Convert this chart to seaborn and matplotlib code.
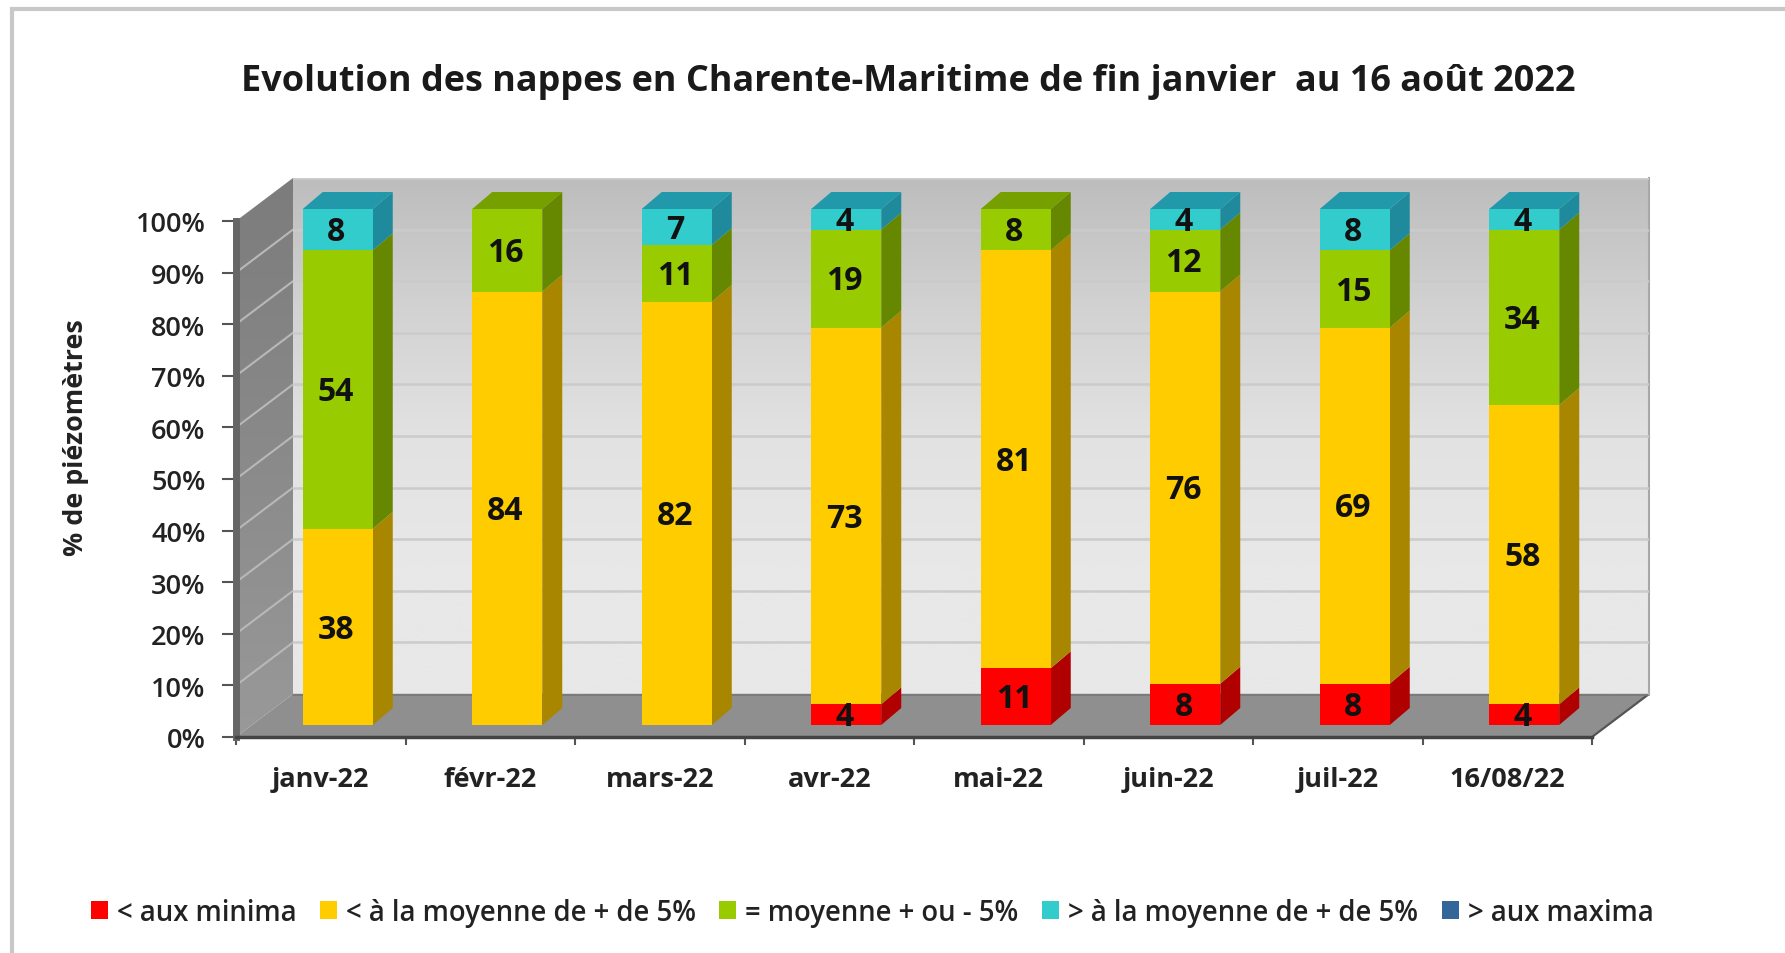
import numpy as np
import pandas as pd
import matplotlib
matplotlib.use("Agg")
import matplotlib.pyplot as plt
from matplotlib.patches import Polygon, Patch
from matplotlib.colors import LinearSegmentedColormap
import seaborn as sns

categories = ["janv-22", "févr-22", "mars-22", "avr-22", "mai-22", "juin-22", "juil-22", "16/08/22"]
minima = [0, 0, 0, 4, 11, 8, 8, 4]
sous_moyenne = [38, 84, 82, 73, 81, 76, 69, 58]
moyenne = [54, 16, 11, 19, 8, 12, 15, 34]
sur_moyenne = [8, 0, 7, 4, 0, 4, 8, 4]
maxima = [0, 0, 0, 0, 0, 0, 0, 0]

series_names = ["< aux minima", "< à la moyenne de + de 5%", "= moyenne + ou - 5%",
                "> à la moyenne de + de 5%", "> aux maxima"]
series_values = [minima, sous_moyenne, moyenne, sur_moyenne, maxima]
front = ["#FF0000", "#FFCC00", "#99CC00", "#33CCCC", "#336699"]
side = ["#B00000", "#A88600", "#668800", "#1F8A9C", "#224466"]
top = ["#C80000", "#BF9900", "#76A000", "#2299AA", "#2A5580"]

title = "Evolution des nappes en Charente-Maritime de fin janvier  au 16 août 2022"
ylabel = "% de piézomètres"
yticks = list(range(0, 101, 10))

W, H = 1785, 954
sns.set_theme(style="white")
plt.rcParams["font.family"] = ["Open Sans", "DejaVu Sans"]
TXT = "#222222"

fig = plt.figure(figsize=(W / 100, H / 100), dpi=100, facecolor="white")


def axes_px(x0, y_top, x1, y_bot, **kw):
    return fig.add_axes([x0 / W, 1 - y_bot / H, (x1 - x0) / W, (y_bot - y_top) / H], **kw)


# decor layer in pixel coordinates
deco = axes_px(0, 0, W, H, zorder=0)
deco.set_xlim(0, W)
deco.set_ylim(H, 0)
deco.axis("off")
deco.add_patch(Polygon([[12, 954], [12, 10], [1785, 10]], closed=False, fill=False,
                       edgecolor="#c8c8c8", lw=3))

AX0, AX1, AY100, AY0 = 236, 1592, 222, 738
DX, DY = 57, 43
PXY = (AY0 - AY100) / 100

# left wall
wall_left = Polygon([[AX0, AY0], [AX0, AY100], [AX0 + DX, AY100 - DY], [AX0 + DX, AY0 - DY]],
                    closed=True, facecolor="none", edgecolor="none")
deco.add_patch(wall_left)
cm_left = LinearSegmentedColormap.from_list("l", ["#7c7c7c", "#8a8a8a", "#999999"])
im = deco.imshow(np.linspace(0, 1, 256)[:, None], extent=(AX0, AX0 + DX, AY0, AY100 - DY),
                 cmap=cm_left, aspect="auto", zorder=1)
im.set_clip_path(wall_left)
deco.set_xlim(0, W)
deco.set_ylim(H, 0)
for v in yticks[1:-1]:
    y = AY0 - v * PXY
    deco.plot([AX0, AX0 + DX], [y, y - DY], color="#b8b8b8", lw=1.5, zorder=2)

# floor
deco.add_patch(Polygon([[AX0, AY0], [AX1, AY0], [AX1 + DX, AY0 - DY], [AX0 + DX, AY0 - DY]],
                       closed=True, facecolor="#8f8f8f", edgecolor="none", zorder=2))
deco.plot([AX1, AX1 + DX], [AY0, AY0 - DY], color="#555555", lw=1.6, zorder=3)
deco.plot([AX0 + DX, AX1 + DX], [AY0 - DY + 1, AY0 - DY + 1], color="#777777", lw=1.2, zorder=3)

# back wall
wall = axes_px(AX0 + DX, AY100 - DY, AX1 + DX, AY0 - DY, zorder=1)
cm_wall = LinearSegmentedColormap.from_list("w", ["#bdbdbd", "#d2d2d2", "#e2e2e2", "#e8e8e8", "#e8e8e8"])
wall.imshow(np.linspace(0, 1, 256)[:, None], extent=(0, 1, 0, 100), cmap=cm_wall, aspect="auto", zorder=0)
wall.set_xlim(0, 1)
wall.set_ylim(0, 100)
wall.set_yticks(yticks)
wall.set_xticks([])
wall.tick_params(left=False, labelleft=False)
wall.grid(axis="y", color="#cbcbcb", lw=1.8, zorder=1)
wall.set_axisbelow(False)
for s in wall.spines.values():
    s.set_visible(False)
wall.spines["right"].set_visible(True)
wall.spines["right"].set_color("#a8a8a8")
wall.spines["right"].set_linewidth(1.5)

# front axis: ticks and labels
ax = axes_px(AX0, AY100, AX1, AY0, zorder=2)
ax.patch.set_alpha(0)
ax.set_xlim(-0.5, len(categories) - 0.5)
ax.set_ylim(0, 100)
ax.set_yticks(yticks)
ax.set_yticklabels([f"{v}%" for v in yticks], fontsize=19.5, color=TXT, fontweight="semibold")
ax.set_xticks(range(len(categories)))
ax.set_xticklabels(categories, fontsize=19.5, color=TXT, fontweight="bold")
ax.set_xticks(np.arange(-0.5, len(categories)), minor=True)
ax.tick_params(axis="x", which="major", length=0, pad=21)
ax.tick_params(axis="x", which="minor", length=6, width=1.5, color="#555555", bottom=True)
ax.tick_params(axis="y", length=10, width=1.5, color="#555555", pad=12, left=True)
ax.set_ylabel(ylabel, fontsize=19.4, color=TXT, fontweight="bold", labelpad=0, va="center")
ax.yaxis.set_label_coords((76 - AX0) / (AX1 - AX0), (AY0 - 438) / (AY0 - AY100))
for name in ["top", "right"]:
    ax.spines[name].set_visible(False)
ax.spines["left"].set_color("#666666")
ax.spines["left"].set_linewidth(5)
ax.spines["bottom"].set_color("#444444")
ax.spines["bottom"].set_linewidth(2.5)

# bars: same scale, shifted into the depth of the floor
BX, BY = 17, 12
bars = axes_px(AX0 + BX, AY100 - BY, AX1 + BX, AY0 - BY, zorder=3)
bars.patch.set_alpha(0)
BAR_W = 70 / ((AX1 - AX0) / len(categories))
SX = 20 / ((AX1 - AX0) / len(categories))
SY = 17 / PXY

df = pd.DataFrame({n: v for n, v in zip(series_names, series_values)}, index=categories)
cum = df.cumsum(axis=1)
# tallest cumulative first, each shorter stack painted over it
for i in range(len(series_names) - 1, -1, -1):
    name = series_names[i]
    visible = df[name].to_numpy() > 0
    if not visible.any():
        continue
    part = pd.DataFrame({"cat": categories, "v": cum[name].to_numpy()})
    part.loc[~visible, "v"] = 0
    sns.barplot(data=part, x="cat", y="v", color=front[i], saturation=1, width=BAR_W,
                order=categories, ax=bars, linewidth=0, zorder=3)
bars.set_xlim(-0.5, len(categories) - 0.5)
bars.set_ylim(0, 100)
bars.axis("off")

for k, cat in enumerate(categories):
    right = k + BAR_W / 2
    left = k - BAR_W / 2
    last = None
    for i, name in enumerate(series_names):
        v = df.loc[cat, name]
        if v <= 0:
            continue
        hi = cum.loc[cat, name]
        lo = hi - v
        bars.add_patch(Polygon([[right, lo], [right + SX, lo + SY], [right + SX, hi + SY], [right, hi]],
                               closed=True, facecolor=side[i], edgecolor="none", zorder=2, clip_on=False))
        bars.text(k - 0.01, (lo + hi) / 2 - 0.4, str(int(v)), ha="center", va="center", fontsize=23,
                  fontweight="bold", color="#111111", zorder=6, clip_on=False)
        last = (i, hi)
    i, hi = last
    bars.add_patch(Polygon([[left, hi], [left + SX, hi + SY], [right + SX, hi + SY], [right, hi]],
                           closed=True, facecolor=top[i], edgecolor="none", zorder=2, clip_on=False))

fig.text(908 / W, 1 - 82 / H, title, ha="center", va="center", fontsize=25.9, fontweight="bold", color="#1a1a1a")

handles = [Patch(facecolor=c, edgecolor="none", label=n) for c, n in zip(front, series_names)]
fig.legend(handles=handles, loc="center", bbox_to_anchor=(872 / W, 1 - 913.5 / H), ncol=5, frameon=False,
           handlelength=0.62, handleheight=0.62, handletextpad=0.33, columnspacing=0.85,
           labelcolor=TXT, prop={"weight": "semibold", "size": 19.8})

fig.savefig("out.png", dpi=100)
